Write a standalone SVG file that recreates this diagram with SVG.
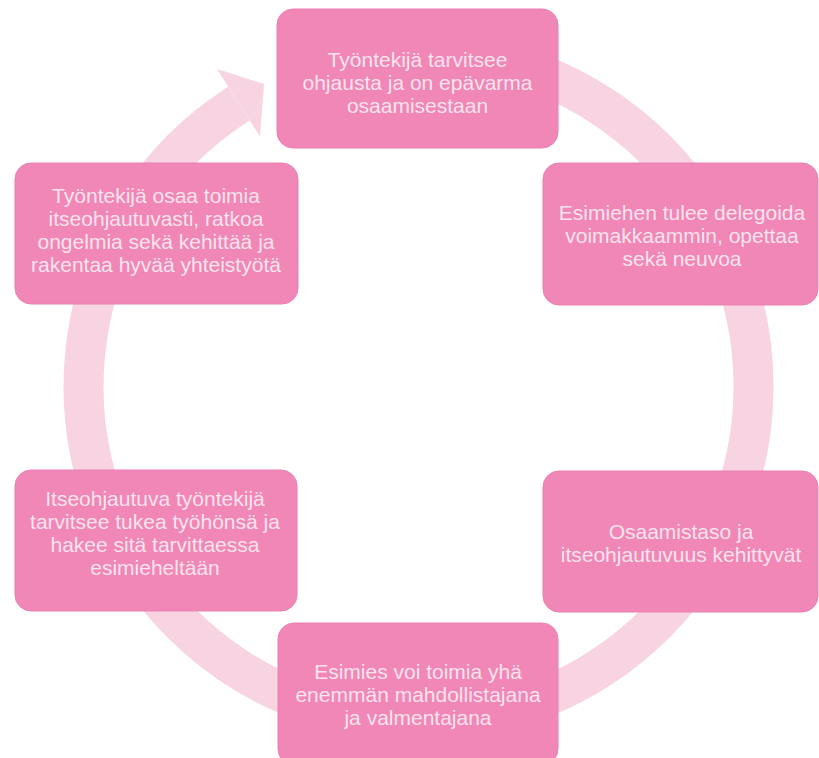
<svg xmlns="http://www.w3.org/2000/svg" width="819" height="758" viewBox="0 0 819 758">
  <style>
    .box { fill: #f087b6; stroke: #ea80b1; stroke-width: 1; }
    .lbl { font-family: "Liberation Sans", Arial, sans-serif; font-size: 21px; fill: #fce3ee; text-anchor: middle; }
    .ring { fill: none; stroke: #f8d4e3; stroke-width: 40; }
    .head { fill: #f8d4e3; }
  </style>
  <rect width="819" height="758" fill="#ffffff"/>
  <g id="connectors">
    <path class="ring" d="M 476.7 56.6 A 335 335 0 1 1 239 103.7"/>
    <polygon class="head" points="217,69 264,84 260,136.6"/>
  </g>
  <g id="node1">
    <rect class="box" x="277" y="9" width="281" height="139" rx="16"/>
    <text class="lbl" x="417.5" y="67">Työntekijä tarvitsee</text>
    <text class="lbl" x="417.5" y="90">ohjausta ja on epävarma</text>
    <text class="lbl" x="417.5" y="113">osaamisestaan</text>
  </g>
  <g id="node2">
    <rect class="box" x="543" y="163" width="275" height="142" rx="16"/>
    <text class="lbl" x="682" y="220">Esimiehen tulee delegoida</text>
    <text class="lbl" x="682" y="243">voimakkaammin, opettaa</text>
    <text class="lbl" x="682" y="266">sekä neuvoa</text>
  </g>
  <g id="node3">
    <rect class="box" x="543" y="471" width="275" height="141" rx="16"/>
    <text class="lbl" x="681" y="539">Osaamistaso ja</text>
    <text class="lbl" x="681" y="562">itseohjautuvuus kehittyvät</text>
  </g>
  <g id="node4">
    <rect class="box" x="278" y="623" width="280" height="142" rx="16"/>
    <text class="lbl" x="418" y="679">Esimies voi toimia yhä</text>
    <text class="lbl" x="418" y="702">enemmän mahdollistajana</text>
    <text class="lbl" x="418" y="725">ja valmentajana</text>
  </g>
  <g id="node5">
    <rect class="box" x="15" y="470" width="282" height="141" rx="16"/>
    <text class="lbl" x="155" y="506">Itseohjautuva työntekijä</text>
    <text class="lbl" x="155" y="529">tarvitsee tukea työhönsä ja</text>
    <text class="lbl" x="155" y="552">hakee sitä tarvittaessa</text>
    <text class="lbl" x="155" y="575">esimieheltään</text>
  </g>
  <g id="node6">
    <rect class="box" x="15" y="163" width="283" height="141" rx="16"/>
    <text class="lbl" x="156" y="203">Työntekijä osaa toimia</text>
    <text class="lbl" x="156" y="226">itseohjautuvasti, ratkoa</text>
    <text class="lbl" x="156" y="249">ongelmia sekä kehittää ja</text>
    <text class="lbl" x="156" y="272">rakentaa hyvää yhteistyötä</text>
  </g>
</svg>
